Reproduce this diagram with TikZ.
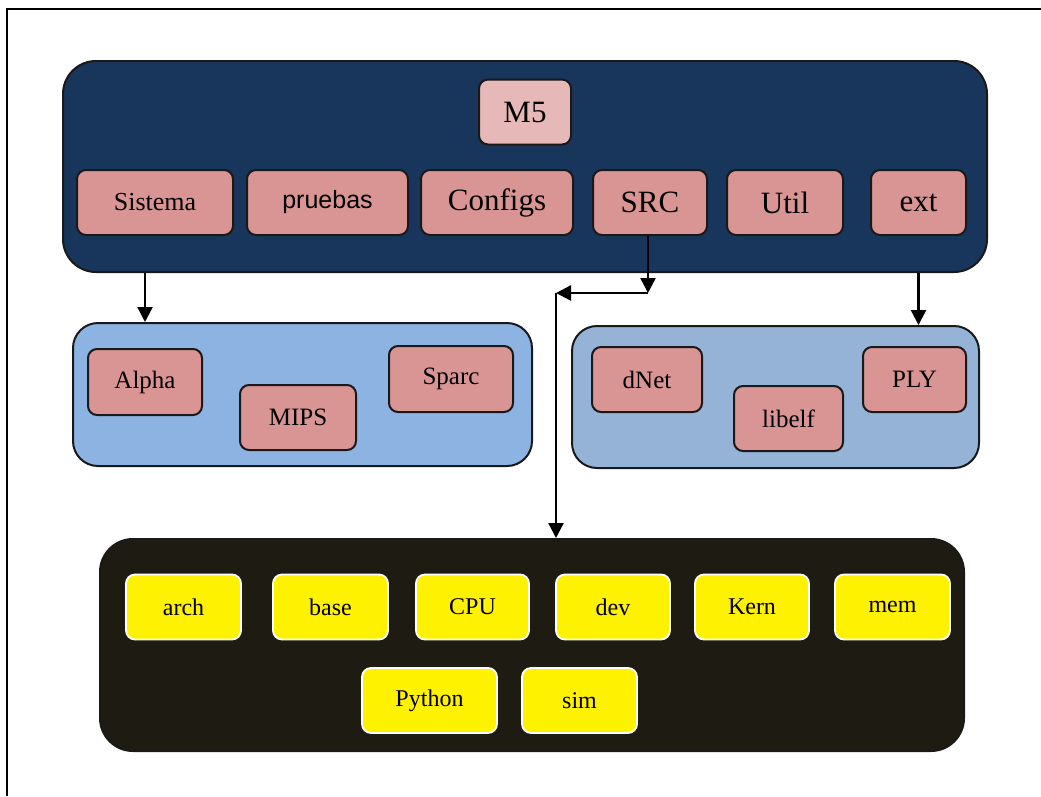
\documentclass[tikz,border=0pt]{standalone}
\usepackage{fontspec}
\setmainfont{Liberation Serif}
\newfontfamily\pruebasfont{Liberation Sans}
\usepackage{xcolor}
\usetikzlibrary{arrows.meta}

\definecolor{navyfill}{RGB}{24,54,92}
\definecolor{rosefill}{RGB}{217,149,148}
\definecolor{lightrose}{RGB}{230,184,183}
\definecolor{skyfill}{RGB}{141,179,226}
\definecolor{greyblue}{RGB}{149,179,215}
\definecolor{nightfill}{RGB}{30,28,18}

\tikzset{
  frame/.style = {draw=black!90, line width=2pt},
  panel/.style = {frame, rounded corners=33pt, inner sep=0pt},
  group/.style = {frame, rounded corners=25pt, inner sep=0pt},
  folder/.style = {frame, fill=rosefill, rounded corners=9pt, inner sep=0pt,
    minimum height=65pt, font=\fontsize{31}{31}\selectfont},
  subfolder/.style = {folder, font=\fontsize{25}{25}\selectfont},
  srcfolder/.style = {draw=white, line width=1.8pt, fill=yellow, rounded corners=9pt,
    inner sep=0pt, minimum height=65pt, font=\fontsize{24}{24}\selectfont},
  link/.style = {line width=2.4pt, -{Triangle[length=15pt,width=15pt]}}
}

\begin{document}
\begin{tikzpicture}[x=1pt, y=-1pt]
    \useasboundingbox (0,0) rectangle (1041,796);
    \draw[line width=2pt] (7,796) -- (7,9) -- (1041,9);

    % main panel
    \node[panel, fill=navyfill, minimum width=924pt, minimum height=211pt] (top) at (525,166.5) {};
    \node[folder, fill=lightrose, minimum width=92pt] (m5) at (525,112) {M5};
    \node[folder, minimum width=156pt, font=\fontsize{26}{26}\selectfont] (sistema) at (155,202.5) {Sistema};
    \node[folder, minimum width=161pt, font=\pruebasfont\fontsize{25}{25}\selectfont] (pruebas) at (327.5,202.5) {pruebas};
    \node[folder, minimum width=152pt] (configs) at (497,202.5) {Configs};
    \node[folder, minimum width=114pt] (src) at (650,202.5) {SRC};
    \node[folder, minimum width=116pt] (util) at (785,202.5) {Util};
    \node[folder, minimum width=95pt] (ext) at (918.5,202.5) {ext};

    % architectures
    \node[group, fill=skyfill, minimum width=459pt, minimum height=143pt] (isa) at (302.5,394.5) {};
    \node[subfolder, minimum width=114pt, minimum height=66pt] (alpha) at (145,382) {Alpha};
    \node[subfolder, minimum width=116pt] (mips) at (298,417.5) {MIPS};
    \node[subfolder, minimum width=124pt, minimum height=66pt] (sparc) at (451,379) {Sparc};

    % external libraries
    \node[group, fill=greyblue, minimum width=407pt, minimum height=142pt] (libs) at (775.5,397) {};
    \node[subfolder, minimum width=110pt] (dnet) at (647,379.5) {dNet};
    \node[subfolder, minimum width=109pt] (libelf) at (788.5,418.5) {libelf};
    \node[subfolder, minimum width=103pt] (ply) at (914.5,379.5) {PLY};

    % source tree
    \node[panel, fill=nightfill, minimum width=864pt, minimum height=212pt] (tree) at (532,645) {};
    \node[srcfolder, minimum width=115pt] (arch) at (183.5,607) {arch};
    \node[srcfolder, minimum width=115pt] (base) at (330.5,607) {base};
    \node[srcfolder, minimum width=113pt] (cpu) at (472.5,607) {CPU};
    \node[srcfolder, minimum width=114pt] (dev) at (613,607) {dev};
    \node[srcfolder, minimum width=114pt] (kern) at (752,607) {Kern};
    \node[srcfolder, minimum width=115pt] (mem) at (892.5,607) {mem};
    \node[srcfolder, minimum width=135pt] (python) at (429.5,700.5) {Python};
    \node[srcfolder, minimum width=115pt] (sim) at (579.5,700.5) {sim};

    % links
    \coordinate (srcdrop) at (648,293);
    \coordinate (srcturn) at (556,293);
    \draw[link] (top.south -| alpha.north) -- (alpha.north |- isa.north);
    \draw[link] (ext.south |- top.south) -- (ext.south |- libs.north);
    \draw[link] (src.south -| srcdrop) -- (srcdrop);
    \draw[link] (srcdrop) -- (srcturn);
    \draw[link] (srcturn) -- (srcturn |- tree.north);
\end{tikzpicture}
\end{document}
